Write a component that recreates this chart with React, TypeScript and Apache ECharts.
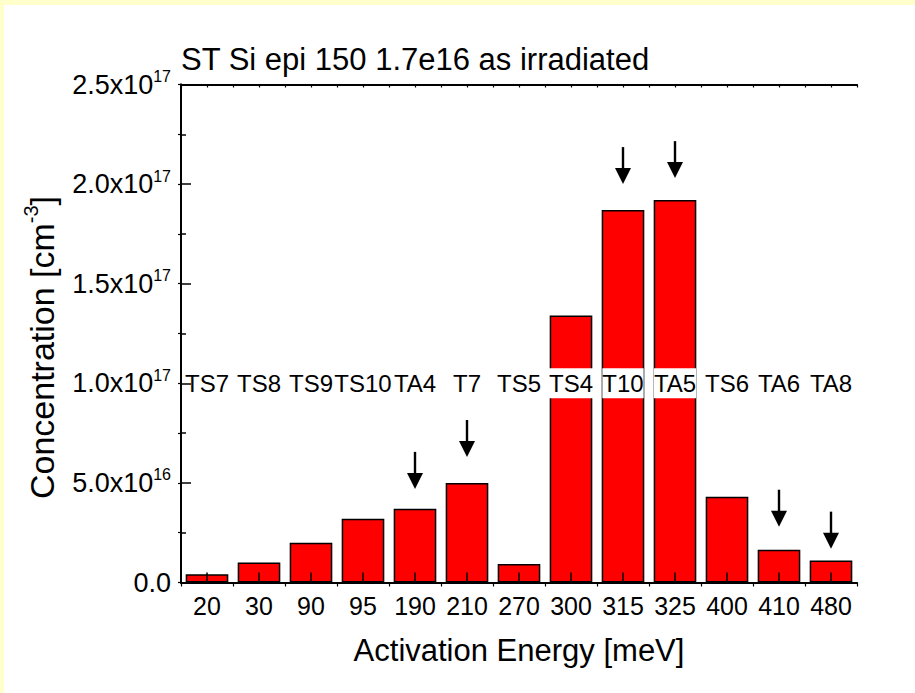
import React, { useEffect, useRef } from 'react';
import * as echarts from 'echarts';

const categories = ['20', '30', '90', '95', '190', '210', '270', '300', '315', '325', '400', '410', '480'];
const concentrations = [4.1e15, 1.0e16, 2.0e16, 3.2e16, 3.7e16, 5.0e16, 9.3e15, 1.34e17, 1.87e17, 1.92e17, 4.3e16, 1.65e16, 1.1e16];
const defectNames = ['TS7', 'TS8', 'TS9', 'TS10', 'TA4', 'T7', 'TS5', 'TS4', 'T10', 'TA5', 'TS6', 'TA6', 'TA8'];
const defectLabelLevel = 1.0e17;
const arrowCategories = ['190', '210', '315', '325', '410', '480'];
const arrowTips = [4.7e16, 6.3e16, 2.0e17, 2.03e17, 2.8e16, 1.7e16];
const yMin = 0;
const yMax = 2.5e17;
const yInterval = 0.5e17;

const FONT = "'Liberation Sans', Arial, Helvetica, sans-serif";

function yLabel(v: number): string {
  if (v === 0) return '{a|0.0}';
  const e = Math.floor(Math.log10(v) + 1e-9);
  const m = v / Math.pow(10, e);
  return '{a|' + m.toFixed(1) + 'x10}{b|' + e + '}';
}

export default function App() {
  const ref = useRef<HTMLDivElement>(null);
  useEffect(() => {
    if (!ref.current) return;
    const chart = echarts.init(ref.current, undefined, { renderer: 'svg' });
    const option: any = {
      animation: false,
      backgroundColor: '#FFFFCC',
      textStyle: { fontFamily: FONT },
      graphic: [
        { type: 'rect', z: -10, shape: { x: 4, y: 5, width: 911, height: 688 }, style: { fill: '#FFFFFF' } },
      ],
      title: {
        text: 'ST Si epi 150 1.7e16 as irradiated',
        left: 181,
        top: 44,
        padding: 0,
        textStyle: { fontFamily: FONT, fontSize: 31, fontWeight: 'normal', color: '#000' },
      },
      grid: { left: 181, right: 58, top: 84.5, bottom: 110.5, containLabel: false },
      xAxis: [
        {
          type: 'category',
          data: categories,
          position: 'bottom',
          z: 10,
          axisLine: { show: true, lineStyle: { color: '#000', width: 2 } },
          axisTick: { show: true, inside: true, alignWithLabel: true, length: 10, lineStyle: { color: '#000', width: 1.5 } },
          axisLabel: { show: true, color: '#000', fontSize: 25, fontFamily: FONT, margin: 11, interval: 0 },
          splitLine: { show: false },
          name: 'Activation Energy [meV]',
          nameLocation: 'middle',
          nameGap: 52,
          nameTextStyle: { fontFamily: FONT, fontSize: 31, color: '#000' },
        },
        {
          type: 'value',
          min: 0,
          max: 13,
          interval: 1,
          position: 'bottom',
          z: 10,
          axisLine: { show: false },
          axisTick: { show: true, inside: false, length: 4, lineStyle: { color: '#000', width: 1.2 } },
          axisLabel: { show: false },
          splitLine: { show: false },
        },
        {
          type: 'value',
          min: 0,
          max: 13,
          interval: 0.5,
          position: 'top',
          z: 10,
          axisLine: { show: true, onZero: false, lineStyle: { color: '#000', width: 2 } },
          axisTick: { show: true, inside: true, length: 3, lineStyle: { color: '#000', width: 1.2 } },
          axisLabel: { show: false },
          splitLine: { show: false },
        },
      ],
      yAxis: [
        {
          type: 'value',
          min: yMin,
          max: yMax,
          interval: yInterval,
          position: 'left',
          z: 10,
          axisLine: { show: true, lineStyle: { color: '#000', width: 2 } },
          axisTick: { show: true, inside: true, length: 10, lineStyle: { color: '#000', width: 1.5 } },
          minorTick: { show: true, splitNumber: 2, length: 5, lineStyle: { color: '#000', width: 1.5 } },
          splitLine: { show: false },
          axisLabel: {
            show: true,
            margin: 10,
            formatter: yLabel,
            rich: {
              a: { fontFamily: FONT, fontSize: 27, color: '#000', lineHeight: 32, verticalAlign: 'middle' },
              b: { fontFamily: FONT, fontSize: 16, color: '#000', lineHeight: 12, verticalAlign: 'top' },
            },
          },
          name: '{a|Concentration [cm}{s|-3}{a|]}',
          nameLocation: 'middle',
          nameGap: 118,
          nameRotate: 90,
          nameTextStyle: {
            padding: [0, 28, 0, 0],
            rich: {
              a: { fontFamily: FONT, fontSize: 34, color: '#000', lineHeight: 42, verticalAlign: 'middle' },
              s: { fontFamily: FONT, fontSize: 20, color: '#000', lineHeight: 16, verticalAlign: 'top' },
            },
          },
        },
        {
          type: 'value',
          min: yMin,
          max: yMax,
          interval: yInterval / 2,
          position: 'right',
          z: 10,
          axisLine: { show: true, lineStyle: { color: '#000', width: 2 } },
          axisTick: { show: true, inside: true, length: 3, lineStyle: { color: '#000', width: 1.2 } },
          axisLabel: { show: false },
          splitLine: { show: false },
        },
      ],
      series: [
        {
          type: 'bar',
          xAxisIndex: 0,
          yAxisIndex: 0,
          data: concentrations,
          barCategoryGap: '18%',
          z: 2,
          itemStyle: { color: '#FF0000', borderColor: '#000', borderWidth: 1.5 },
        },
        {
          type: 'custom',
          xAxisIndex: 0,
          yAxisIndex: 0,
          z: 5,
          data: categories.map((c) => [c, defectLabelLevel]),
          renderItem: (params: any, api: any) => {
            const p = api.coord([api.value(0), api.value(1)]);
            return {
              type: 'text',
              x: p[0],
              y: p[1],
              style: {
                text: defectNames[params.dataIndex],
                fontFamily: FONT,
                fontSize: 24,
                fill: '#000',
                align: 'center',
                verticalAlign: 'middle',
                backgroundColor: '#FFFFFF',
                padding: [3, 0],
              },
            };
          },
        },
        {
          type: 'custom',
          xAxisIndex: 0,
          yAxisIndex: 0,
          z: 6,
          data: arrowCategories.map((c, i) => [c, arrowTips[i]]),
          renderItem: (params: any, api: any) => {
            const p = api.coord([api.value(0), api.value(1)]);
            const x = p[0];
            const y = p[1];
            return {
              type: 'group',
              children: [
                { type: 'line', shape: { x1: x, y1: y - 37, x2: x, y2: y - 14 }, style: { stroke: '#000', lineWidth: 2.4 } },
                { type: 'polygon', shape: { points: [[x - 8, y - 16], [x + 8, y - 16], [x, y]] }, style: { fill: '#000' } },
              ],
            };
          },
        },
      ],
    };
    chart.setOption(option);
    return () => chart.dispose();
  }, []);
  return <div ref={ref} style={{ position: 'absolute', left: 0, top: 0, width: 915, height: 693 }} />;
}
